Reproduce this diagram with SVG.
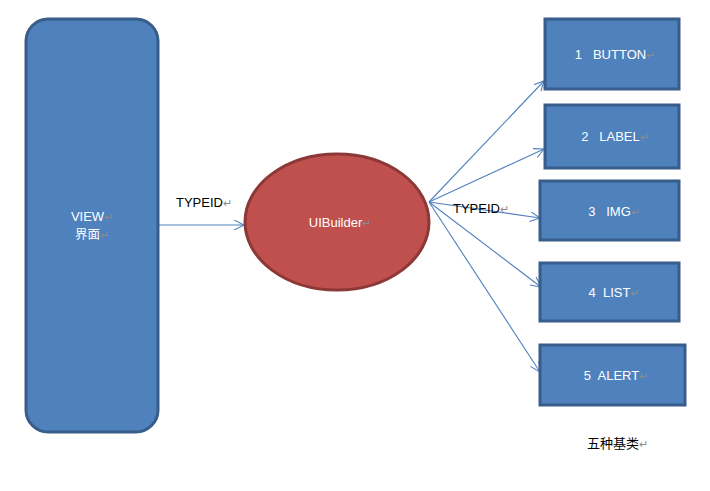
<svg xmlns="http://www.w3.org/2000/svg" width="710" height="491" viewBox="0 0 710 491">
<defs>
<style>
.box{fill:#4f81bd;stroke:#385d8a;stroke-width:3}
.lbl{font-family:"Liberation Sans",Arial,sans-serif;font-size:13px;fill:#ffffff;text-anchor:middle}
.blk{font-family:"Liberation Sans",Arial,"Noto Sans CJK SC",sans-serif;font-size:13px;fill:#000000}
.cjk{font-family:"Noto Sans CJK SC",sans-serif}
.pm{fill:#8c8c8c;font-size:11px}
.conn{stroke:#4f81bd;stroke-width:1.1;fill:none}
</style>
<marker id="arr" markerWidth="12" markerHeight="12" refX="10" refY="5" orient="auto" markerUnits="userSpaceOnUse">
<path d="M0,0 L10,5 L0,10" fill="none" stroke="#4f81bd" stroke-width="1.1"/>
</marker>
</defs>
<rect width="710" height="491" fill="#ffffff"/>
<g id="connectors">
<line class="conn" x1="158" y1="225" x2="244" y2="225" marker-end="url(#arr)"/>
<line class="conn" x1="429" y1="202" x2="544" y2="81" marker-end="url(#arr)"/>
<line class="conn" x1="429" y1="202" x2="544" y2="149" marker-end="url(#arr)"/>
<line class="conn" x1="429" y1="202" x2="540" y2="218" marker-end="url(#arr)"/>
<line class="conn" x1="429" y1="202" x2="541" y2="287" marker-end="url(#arr)"/>
<line class="conn" x1="429" y1="202" x2="540" y2="372" marker-end="url(#arr)"/>
</g>
<g id="view">
<rect class="box" x="26" y="19" width="132" height="413" rx="22" ry="22"/>
<text class="lbl" x="92" y="221">VIEW<tspan class="pm">↵</tspan></text>
<text class="lbl cjk" x="92" y="239" style="font-size:12.5px">界面<tspan class="pm">↵</tspan></text>
</g>
<g id="uibuilder">
<ellipse cx="337" cy="222" rx="92" ry="68" fill="#c0504d" stroke="#8c3836" stroke-width="3"/>
<text class="lbl" x="340" y="227">UIBuilder<tspan class="pm">↵</tspan></text>
</g>
<g id="n1">
<rect class="box" x="545" y="19" width="134" height="70"/>
<text class="lbl" x="615" y="59" xml:space="preserve">1   BUTTON<tspan class="pm">↵</tspan></text>
</g>
<g id="n2">
<rect class="box" x="545" y="105" width="134" height="63"/>
<text class="lbl" x="615" y="141" xml:space="preserve">2   LABEL<tspan class="pm">↵</tspan></text>
</g>
<g id="n3">
<rect class="box" x="540" y="181" width="139" height="59"/>
<text class="lbl" x="614" y="216" xml:space="preserve">3   IMG<tspan class="pm">↵</tspan></text>
</g>
<g id="n4">
<rect class="box" x="540" y="263" width="139" height="58"/>
<text class="lbl" x="614" y="297" xml:space="preserve">4  LIST<tspan class="pm">↵</tspan></text>
</g>
<g id="n5">
<rect class="box" x="540" y="345" width="145" height="60"/>
<text class="lbl" x="616" y="380" xml:space="preserve">5  ALERT<tspan class="pm">↵</tspan></text>
</g>
<text class="blk" x="176" y="207">TYPEID<tspan class="pm">↵</tspan></text>
<text class="blk" x="453" y="213">TYPEID<tspan class="pm">↵</tspan></text>
<text class="blk cjk" x="587" y="448">五种基类<tspan class="pm">↵</tspan></text>
</svg>
